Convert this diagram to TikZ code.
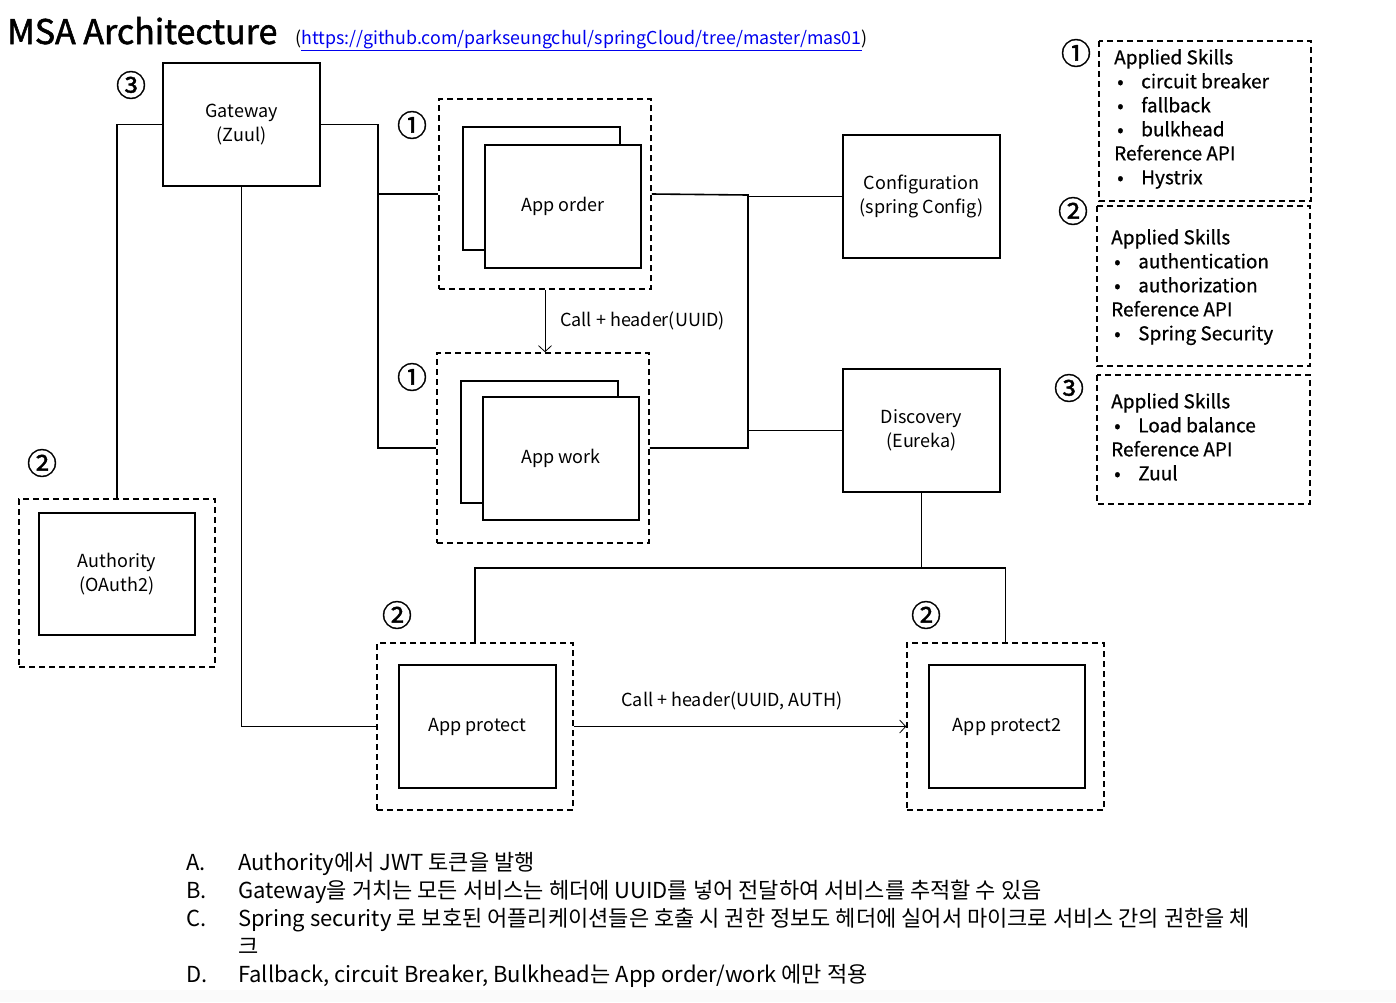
\documentclass[tikz,border=0pt]{standalone}
\usepackage{fontspec}
\setmainfont{Noto Sans CJK KR}
\newfontfamily\titlefont[FakeBold=1.6]{Noto Sans CJK KR}
\newfontfamily\legfont[FakeBold=0.7]{Noto Sans CJK KR}
\newfontfamily\numfont[FakeBold=1.2]{Noto Sans CJK KR}
\usetikzlibrary{arrows.meta,calc}
\newcommand\fsz[2]{\fontsize{#1}{#2}\selectfont}
\newcommand\bul{\makebox[27pt][l]{\hspace{3pt}•}}
\definecolor{linkblue}{RGB}{0,0,238}
\definecolor{stripgray}{RGB}{250,250,250}
\tikzset{
  solidbox/.style={draw, line width=1.6pt, minimum width=157pt, minimum height=123pt, inner sep=0pt, align=center, font=\fsz{18}{24}, fill=white},
  dashbox/.style={draw, line width=1.6pt, dash pattern=on 6pt off 4pt, inner sep=0pt},
  conn/.style={line width=1.6pt},
  thinarrow/.style={line width=0.8pt, -{Straight Barb[length=6pt,width=13pt]}},
  num/.style={font=\numfont\fsz{30}{34}, inner sep=0pt},
  legendtext/.style={font=\legfont\fsz{19}{24}, align=left, inner sep=0pt, anchor=north west},
  lbl/.style={font=\fsz{18}{22}, inner sep=0pt},
}
\begin{document}
\begin{tikzpicture}[x=1pt,y=-1pt]
\useasboundingbox (0,0) rectangle (1396,1002);
\fill[stripgray] (0,990) rectangle (1396,1002);

% title
\node[anchor=base west, inner sep=0pt, font=\titlefont\fsz{34}{40}] (title) at (7,44) {MSA Architecture};
\node[anchor=base west, inner sep=0pt, font=\fsz{17.8}{22}] (link) at (295,44) {(\textcolor{linkblue}{\underline{https://github.com/parkseungchul/springCloud/tree/master/mas01}})};

% gateway
\node[solidbox] (gw) at (241.5,124.5) {Gateway\\(Zuul)};
\node[num] (n3a) at (131,85) {③};

% app order
\node[dashbox, minimum width=212pt, minimum height=190pt] (orderD) at (545,194) {};
\node[solidbox] (orderB) at (541.5,188.5) {};
\node[solidbox, minimum width=156pt] (order) at (563,206.5) {App order};
\node[num] (n1a) at (412,125) {①};

% app work
\node[dashbox, minimum width=212pt, minimum height=190pt] (workD) at (543,448) {};
\node[solidbox, minimum height=122pt] (workB) at (539.5,442) {};
\node[solidbox, minimum width=156pt] (work) at (561,458.5) {App work};
\node[num] (n1b) at (412,377) {①};

% config / discovery
\node[solidbox] (config) at (921.5,196.5) {Configuration\\(spring Config)};
\node[solidbox] (disc) at (921.5,430.5) {Discovery\\(Eureka)};

% authority
\node[dashbox, minimum width=196pt, minimum height=168pt] (authD) at (117,583) {};
\node[solidbox, minimum width=156pt, minimum height=122pt] (auth) at (117,574) {Authority\\(OAuth2)};
\node[num] (n2a) at (42,463) {②};

% app protect
\node[dashbox, minimum width=196pt, minimum height=167pt] (protD) at (475,726.5) {};
\node[solidbox] (prot) at (477.5,726.5) {App protect};
\node[num] (n2b) at (397,615) {②};

% app protect2
\node[dashbox, minimum width=197pt, minimum height=167pt] (prot2D) at (1005.5,726.5) {};
\node[solidbox, minimum width=156pt] (prot2) at (1007,726.5) {App protect2};
\node[num] (n2c) at (926,615) {②};

% connectors
\coordinate (busL) at (378,124.5);
\coordinate (busR) at (748,195);
\coordinate (busB) at (921.5,568);
\draw[conn] (gw.west) -| (authD.north);
\draw[conn] (gw.east) -- (busL) |- (workD.west);
\draw[conn] (orderD.west) -- (orderD.west -| busL);
\draw[conn] (gw.south) |- (protD.west);
\draw[conn] (orderD.east) -- (busR) |- (workD.east);
\draw[conn] (config.west) -- (config.west -| busR);
\draw[conn] (disc.west) -- (disc.west -| busR);
\draw[conn] (disc.south) -- (busB);
\draw[conn] (protD.north) |- (busB) -| (prot2D.north);

% calls
\draw[thinarrow] (orderD.south) -- (orderD.south |- workD.north);
\node[lbl, anchor=west] (call1) at (560,321) {Call + header(UUID)};
\draw[thinarrow] (protD.east) -- (prot2D.west);
\node[lbl] (call2) at (732,701) {Call + header(UUID, AUTH)};

% legend
\node[num] (ln1) at (1076,53) {①};
\draw[dashbox] (1099,41) rectangle (1311,201);
\node[legendtext] (leg1) at (1114,49) {Applied Skills\\ \bul circuit breaker\\ \bul fallback\\ \bul bulkhead\\ Reference API\\ \bul Hystrix};

\node[num] (ln2) at (1073,211) {②};
\draw[dashbox] (1097,206) rectangle (1310,366);
\node[legendtext] (leg2) at (1111,229) {Applied Skills\\ \bul authentication\\ \bul authorization\\ Reference API\\ \bul Spring Security};

\node[num] (ln3) at (1069,388) {③};
\draw[dashbox] (1097,375) rectangle (1310,504);
\node[legendtext] (leg3) at (1111,393) {Applied Skills\\ \bul Load balance\\ Reference API\\ \bul Zuul};

% notes
\node[anchor=north west, inner sep=0pt, align=left, font=\fsz{22}{28}] (notes) at (186,852) {%
\makebox[52pt][l]{A.}Authority에서 JWT 토큰을 발행\\
\makebox[52pt][l]{B.}Gateway을 거치는 모든 서비스는 헤더에 UUID를 넣어 전달하여 서비스를 추적할 수 있음\\
\makebox[52pt][l]{C.}Spring security 로 보호된 어플리케이션들은 호출 시 권한 정보도 헤더에 실어서 마이크로 서비스 간의 권한을 체\\
\hspace*{52pt}크\\
\makebox[52pt][l]{D.}Fallback, circuit Breaker, Bulkhead는 App order/work 에만 적용};
\end{tikzpicture}
\end{document}
